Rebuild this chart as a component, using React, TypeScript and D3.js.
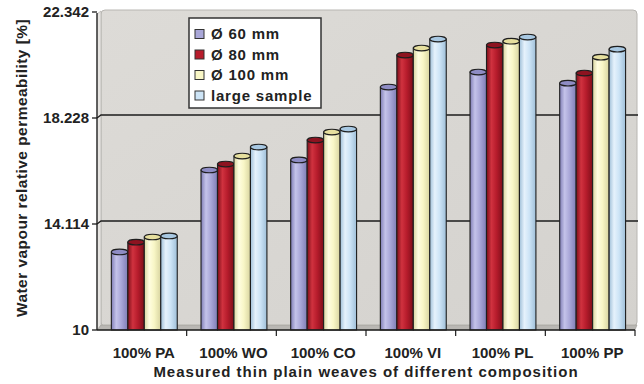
import React from "react";
import * as d3 from "d3";

const categories = ["100% PA", "100% WO", "100% CO", "100% VI", "100% PL", "100% PP"];
const seriesNames = ["Ø 60 mm", "Ø 80 mm", "Ø 100 mm", "large sample"];
const s60 = [13.03, 16.21, 16.6, 19.43, 20.01, 19.58];
const s80 = [13.41, 16.44, 17.37, 20.67, 21.06, 19.97];
const s100 = [13.61, 16.75, 17.68, 20.94, 21.21, 20.59];
const sLarge = [13.65, 17.1, 17.8, 21.29, 21.37, 20.9];
const yTicks = [10, 14.114, 18.228, 22.342];
const yTickLabels = ["10", "14.114", "18.228", "22.342"];

const seriesValues = [s60, s80, s100, sLarge];
const colors = [
  { base: "#a9a7d8", light: "#c4c3ea", dark: "#7f7db5", top: "#8e8cc4" },
  { base: "#b71c2c", light: "#d0323f", dark: "#7e0f1a", top: "#8d1320" },
  { base: "#f8f6c6", light: "#fffde0", dark: "#d8d4a0", top: "#e6df9e" },
  { base: "#cde4f6", light: "#e6f2fc", dark: "#9fbfd8", top: "#a8c8e2" },
];

export default function App() {
  const W = 644, H = 384;
  const left = 97, right = 635, bottom = 330, top = 12;
  const dx = 4, dy = 3;
  const x0 = d3.scaleBand<string>().domain(categories).range([left, right]).padding(0);
  const bw = x0.bandwidth();
  const x1 = d3.scaleBand<string>().domain(seriesNames).range([bw * 0.16, bw * 0.895]).padding(0);
  const y = d3.scaleLinear().domain([10, 22.342]).range([bottom, top]);
  const font = "'Liberation Sans', Arial, Helvetica, sans-serif";

  return (
    <svg width={W} height={H} style={{ position: "absolute", left: 0, top: 0, background: "#fff" }}>
      <defs>
        <linearGradient id="wall" x1="0" y1="0" x2="1" y2="1">
          <stop offset="0" stopColor="#dddbd7" />
          <stop offset="1" stopColor="#d4d2ce" />
        </linearGradient>
        {colors.map((c, i) => (
          <linearGradient key={i} id={"cyl" + i} x1="0" y1="0" x2="1" y2="0">
            <stop offset="0" stopColor={c.dark} />
            <stop offset="0.3" stopColor={c.light} />
            <stop offset="0.6" stopColor={c.base} />
            <stop offset="1" stopColor={c.dark} />
          </linearGradient>
        ))}
      </defs>
      {/* back wall */}
      <rect x={left + dx} y={top - dy + 1} width={right + 2 - left - dx} height={bottom - top - 2} rx={4}
        fill="url(#wall)" stroke="#b8b6b2" strokeWidth={1} />
      {/* left side wall */}
      <path d={`M${left},${top + 2} L${left + dx},${top - dy + 2} L${left + dx},${bottom - dy} L${left},${bottom} Z`}
        fill="#e6e4e1" stroke="#b8b6b2" strokeWidth={0.8} />
      {/* floor */}
      <path d={`M${left},${bottom} L${left + dx},${bottom - dy - 2} L${right + 2},${bottom - dy - 2} L${right},${bottom} Z`}
        fill="#b9b7b3" stroke="#9c9a96" strokeWidth={0.6} />
      {/* gridlines */}
      {yTicks.slice(1, 3).map((t) => (
        <path key={t} d={`M${left},${y(t)} L${left + dx},${y(t) - dy} L${right + 3},${y(t) - dy}`}
          fill="none" stroke="#1c1c1c" strokeWidth={1.3} />
      ))}
      {/* bars */}
      {categories.map((cat, ci) => (
        <g key={cat}>
          {seriesNames.map((s, si) => {
            const v = seriesValues[si][ci];
            const bx = (x0(cat) as number) + (x1(s) as number);
            const w = x1.bandwidth();
            const ty = y(v);
            const ry = 2.8;
            return (
              <g key={s}>
                <path d={`M${bx},${ty} L${bx},${bottom} L${bx + w},${bottom} L${bx + w},${ty} Z`}
                  fill={`url(#cyl${si})`} stroke="#1e1e1e" strokeWidth={1.1} />
                <ellipse cx={bx + w / 2} cy={ty} rx={w / 2} ry={ry} fill={colors[si].top}
                  stroke="#1e1e1e" strokeWidth={1.1} />
              </g>
            );
          })}
        </g>
      ))}
      {/* axes */}
      <line x1={left} y1={top + 1} x2={left} y2={bottom} stroke="#1c1c1c" strokeWidth={1.3} />
      <line x1={left} y1={bottom} x2={right} y2={bottom} stroke="#1c1c1c" strokeWidth={1.3} />
      {yTicks.map((t, i) => (
        <g key={t}>
          <line x1={left - 5} x2={left} y1={y(t)} y2={y(t)} stroke="#1c1c1c" strokeWidth={1.3} />
          <text x={89} y={y(t)} dy="0.36em" textAnchor="end" fontFamily={font} fontWeight="bold"
            fontSize={15} fill="#222">{yTickLabels[i]}</text>
        </g>
      ))}
      {categories.map((cat, i) => (
        <line key={"t" + i} x1={(x0(cat) as number) + bw} x2={(x0(cat) as number) + bw}
          y1={bottom} y2={bottom + 6} stroke="#1c1c1c" strokeWidth={1.2} />
      ))}
      {categories.map((cat) => (
        <text key={"l" + cat} x={(x0(cat) as number) + bw / 2 + 2} y={353} dy="0.35em" textAnchor="middle"
          fontFamily={font} fontWeight="bold" fontSize={15} fill="#222">{cat}</text>
      ))}
      <text x={366} y={372} dy="0.35em" textAnchor="middle" fontFamily={font} fontWeight="bold"
        fontSize={15} letterSpacing={1} fill="#222">Measured thin plain weaves of different composition</text>
      <text transform={`translate(22,168) rotate(-90)`} textAnchor="middle" dy="0.35em" fontFamily={font}
        fontWeight="bold" fontSize={15.5} letterSpacing={0.45} fill="#222">Water vapour relative permeability [%]</text>
      {/* legend */}
      <rect x={189} y={18} width={132} height={90} fill="#fff" stroke="#333" strokeWidth={1.5} />
      {seriesNames.map((s, i) => (
        <g key={"lg" + s}>
          <rect x={195} y={29.5 + i * 20.5} width={9} height={9} fill={colors[i].base} stroke="#333" strokeWidth={1} />
          <text x={211} y={34 + i * 20.5} dy="0.36em" fontFamily={font} fontWeight="bold" fontSize={15}
            letterSpacing={0.8} fill="#222">{s}</text>
        </g>
      ))}
    </svg>
  );
}
